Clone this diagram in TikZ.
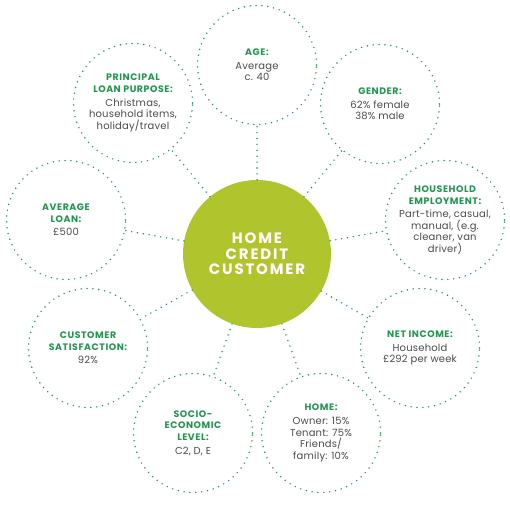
\documentclass[tikz,border=0pt]{standalone}
\usepackage{fontspec}
\setmainfont{Poppins}
\definecolor{dotgreen}{RGB}{32,150,78}
\definecolor{hubgreen}{RGB}{176,196,46}
\definecolor{bodygrey}{RGB}{75,75,75}
\newcommand{\hd}[1]{{\color{dotgreen}\fontsize{9.4}{12}\selectfont\bfseries\addfontfeature{LetterSpace=6}#1}}
\tikzset{
  hub/.style={circle, fill=hubgreen, minimum size=148pt, inner sep=0pt, text=white,
    font=\fontsize{15}{15.5}\selectfont\bfseries\addfontfeature{LetterSpace=12}, align=center},
  info/.style={circle, draw=dotgreen, line width=1.6pt, line cap=round,
    dash pattern=on 0pt off 5.9pt, minimum size=119pt, inner sep=0pt,
    text=bodygrey, font=\fontsize{10}{11.6}\selectfont\addfontfeature{LetterSpace=2}, align=center},
  conn/.style={draw=dotgreen, line width=1.6pt, line cap=round, dash pattern=on 0pt off 5.9pt}
}
\begin{document}
\begin{tikzpicture}[x=1pt,y=-1pt]
\useasboundingbox (0,0) rectangle (510,510);
\node[hub] (hub) at (257,254) {HOME\\CREDIT\\CUSTOMER};
\node[info] (age) at (257,65) {\hd{AGE:}\\[2pt] Average\\ c. 40};
\node[info] (purpose) at (133,103) {\hd{PRINCIPAL}\\ \hd{LOAN PURPOSE:}\\[2pt] Christmas,\\ household items,\\ holiday/travel};
\node[info] (gender) at (380,104) {\hd{GENDER:}\\[2pt] 62\% female\\ 38\% male};
\node[info] (loan) at (66,220) {\hd{AVERAGE}\\ \hd{LOAN:}\\[2pt] £500};
\node[info] (employ) at (445,220) {\hd{HOUSEHOLD}\\ \hd{EMPLOYMENT:}\\[2pt] Part-time, casual,\\ manual, (e.g.\\ cleaner, van\\ driver)};
\node[info] (satisf) at (88,348) {\hd{CUSTOMER}\\ \hd{SATISFACTION:}\\[2pt] 92\%};
\node[info] (income) at (420,348) {\hd{NET INCOME:}\\[2pt] Household\\ £292 per week};
\node[info] (socio) at (193,433) {\hd{SOCIO-}\\ \hd{ECONOMIC}\\ \hd{LEVEL:}\\[2pt] C2, D, E};
\node[info] (home) at (321,433) {\hd{HOME:}\\[2pt] Owner: 15\%\\ Tenant: 75\%\\ Friends/\\ family: 10\%};
\foreach \n in {age,purpose,gender,loan,employ,satisf,income,socio,home}
  \draw[conn] (hub) -- (\n);
\end{tikzpicture}
\end{document}
